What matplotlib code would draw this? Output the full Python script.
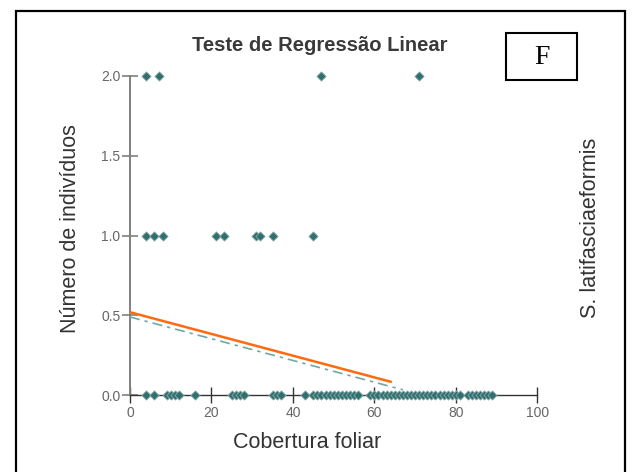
import numpy as np
import matplotlib
matplotlib.use("Agg")
import matplotlib.pyplot as plt
from matplotlib.patches import Rectangle

plt.rcParams['font.family'] = ['Liberation Sans', 'DejaVu Sans']

# Observations: leaf cover (%) and number of individuals
cover_two = [4, 7, 47, 71]
cover_one = [4, 6, 8, 21, 23, 31, 32, 35, 45]
cover_zero = ([4, 6, 9, 10, 11, 12, 16, 25, 26, 27, 28, 35, 36, 37, 43]
              + list(range(45, 57)) + list(range(59, 82)) + list(range(83, 90)))

# Fitted regression lines (intercept, slope, x extent)
fit_intercept = 0.52
fit_slope = -0.0068
fit_range = [0, 64]
ref_intercept = 0.49
ref_slope = -0.0068
ref_range = [0, 67]

x_ticks = [0, 20, 40, 60, 80, 100]
y_ticks = [0.0, 0.5, 1.0, 1.5, 2.0]

fig = plt.figure(figsize=(6.32, 4.72), dpi=100)
fig.patch.set_facecolor('white')

# outer frame
fig.patches.append(Rectangle((16 / 632, -0.05), 609 / 632, 1.05 - 10.5 / 472,
                             transform=fig.transFigure, fill=False,
                             edgecolor='black', linewidth=1.6))

ax = fig.add_axes([130 / 632, (472 - 395.3) / 472, 407.3 / 632, 319.6 / 472])
ax.set_facecolor('none')
ax.set_xlim(0, 100)
ax.set_ylim(0, 2)

for s in ['top', 'right']:
    ax.spines[s].set_visible(False)
ax.spines['left'].set_color('#808080')
ax.spines['left'].set_linewidth(1.4)
ax.spines['bottom'].set_color('#333333')
ax.spines['bottom'].set_linewidth(1.0)

ax.set_xticks(x_ticks)
ax.set_xticklabels([str(v) for v in x_ticks])
ax.set_yticks(y_ticks)
ax.set_yticklabels([f"{v:.1f}" for v in y_ticks])
ax.tick_params(axis='x', direction='inout', length=11, width=1.0, color='#333333',
               labelsize=10, labelcolor='#666666', pad=2)
ax.tick_params(axis='y', direction='inout', length=12, width=1.2, color='#808080',
               labelsize=10, labelcolor='#666666', pad=1)

mk = dict(marker='D', s=22, c='#2f6f6d', edgecolors='#8aa9a8', linewidths=0.6,
          clip_on=False, zorder=4)
ax.scatter(cover_two, [2] * len(cover_two), **mk)
ax.scatter(cover_one, [1] * len(cover_one), **mk)
ax.scatter(cover_zero, [0] * len(cover_zero), **mk)

xf = np.array(fit_range, dtype=float)
ax.plot(xf, fit_intercept + fit_slope * xf, color='#ff6a10', linewidth=1.8, zorder=3)
xr = np.array(ref_range, dtype=float)
ax.plot(xr, ref_intercept + ref_slope * xr, color='#6fa8a6', linewidth=1.2,
        linestyle=(0, (6, 3, 2, 3)), zorder=3)

fig.text(320 / 632, 1 - 45.5 / 472, 'Teste de Regressão Linear', ha='center', va='center',
         fontsize=14.5, fontweight='bold', color='#3a3a3a')
fig.text(307 / 632, 1 - 443 / 472, 'Cobertura foliar', ha='center', va='center',
         fontsize=15.5, color='#333333')
fig.text(70 / 632, 1 - 229 / 472, 'Número de indivíduos', ha='center', va='center',
         rotation=90, fontsize=15.5, color='#333333')
fig.text(590 / 632, 1 - 228 / 472, 'S. latifasciaeformis', ha='center', va='center',
         rotation=90, fontsize=15.5, color='#333333')

# panel letter box
fig.patches.append(Rectangle((506 / 632, 1 - 80 / 472), 71 / 632, 47.3 / 472,
                             transform=fig.transFigure, fill=False,
                             edgecolor='black', linewidth=1.5))
fig.text(541.5 / 632, 1 - 57 / 472, 'F', ha='center', va='center',
         fontsize=20, family='Liberation Serif', color='black')

fig.savefig('out.png', dpi=100)
